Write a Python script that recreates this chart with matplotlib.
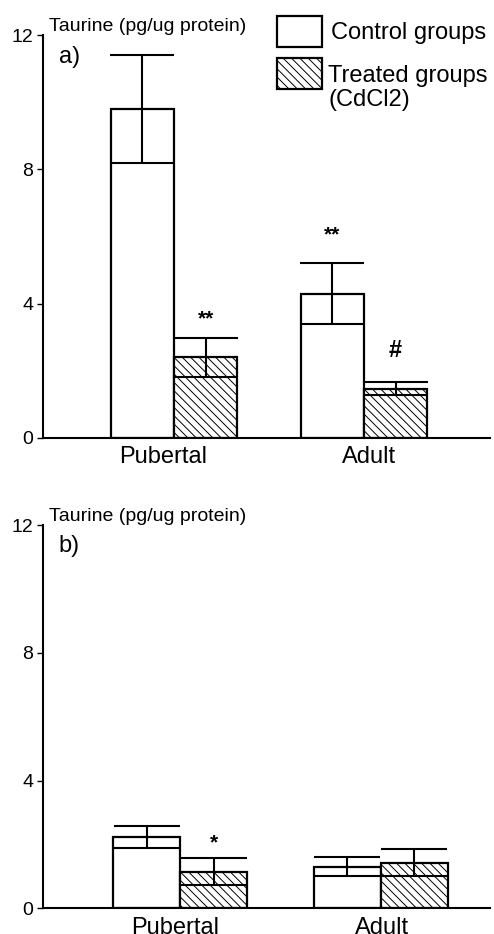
import matplotlib
matplotlib.use("Agg")
import matplotlib.pyplot as plt
from matplotlib.patches import Rectangle

plt.rcParams["font.family"] = ["Liberation Sans", "DejaVu Sans"]
plt.rcParams["hatch.linewidth"] = 0.7

# Data
groups = ["Pubertal", "Adult"]
series = ["Control groups", "Treated groups\n(CdCl2)"]

a_control = [9.8, 4.3]
a_control_err = [1.6, 0.9]
a_treated = [2.4, 1.47]
a_treated_err = [0.57, 0.2]

b_control = [2.24, 1.3]
b_control_err = [0.35, 0.3]
b_treated = [1.15, 1.43]
b_treated_err = [0.42, 0.42]

# significance marks: (text, group index, series index, y)
a_marks = [("**", 0, 1, 3.55), ("**", 1, 0, 6.05), ("#", 1, 1, 2.6)]
b_marks = [("*", 0, 1, 2.05)]

W, H = 494, 934
fig = plt.figure(figsize=(W / 100, H / 100), dpi=100)

centers = [1, 4]


def panel(rect, control, control_err, treated, treated_err, marks, letter,
          xlim, ticks, capsize):
    ax = fig.add_axes(rect)
    xc = [c - 0.5 for c in centers]
    xt = [c + 0.5 for c in centers]
    ax.bar(xc, control, width=1.0, color="white", edgecolor="black",
           linewidth=1.6, zorder=2)
    ax.bar(xt, treated, width=1.0, color="white", edgecolor="black",
           linewidth=1.6, hatch="\\\\\\\\", zorder=2)
    ax.errorbar(xc, control, yerr=control_err, fmt="none", ecolor="black",
                elinewidth=1.5, capsize=capsize, capthick=1.5, zorder=3)
    ax.errorbar(xt, treated, yerr=treated_err, fmt="none", ecolor="black",
                elinewidth=1.5, capsize=capsize, capthick=1.5, zorder=3)
    for txt, g, s, y in marks:
        x = xc[g] if s == 0 else xt[g]
        size = 17 if txt == "#" else 15
        ax.text(x, y, txt, ha="center", va="center", fontsize=size,
                fontweight="bold")
    ax.set_xlim(*xlim)
    ax.set_ylim(0, 12)
    ax.set_yticks([0, 4, 8, 12])
    ax.set_xticks(ticks)
    ax.set_xticklabels(groups, fontsize=17)
    ax.tick_params(axis="x", length=0, pad=6)
    ax.tick_params(axis="y", labelsize=14, length=4, width=1, pad=3)
    for side in ["top", "right"]:
        ax.spines[side].set_visible(False)
    for side in ["left", "bottom"]:
        ax.spines[side].set_linewidth(1.5)
    ax.text(0.013, 1.0, "Taurine (pg/ug protein)", transform=ax.transAxes,
            ha="left", va="bottom", fontsize=14)
    ax.text(0.035, 0.945, letter, transform=ax.transAxes, ha="left",
            va="center", fontsize=17)
    return ax


ax1 = panel([43 / W, (H - 438) / H, 447 / W, 403 / H],
            a_control, a_control_err, a_treated, a_treated_err, a_marks, "a)",
            (-1.068, 5.99), [0.83, 4.08], 23)
ax2 = panel([43 / W, (H - 908.3) / H, 447 / W, 383.3 / H],
            b_control, b_control_err, b_treated, b_treated_err, b_marks, "b)",
            (-1.045, 5.627), [0.93, 4.01], 24)

# legend drawn by hand at the top right
box_w, box_h = 45, 31
fig.patches.append(Rectangle((277 / W, (H - 47) / H), box_w / W, box_h / H,
                             transform=fig.transFigure, facecolor="white",
                             edgecolor="black", linewidth=1.6))
fig.patches.append(Rectangle((277 / W, (H - 89) / H), box_w / W, box_h / H,
                             transform=fig.transFigure, facecolor="white",
                             edgecolor="black", linewidth=1.6,
                             hatch="\\\\\\\\"))
fig.text(331 / W, (H - 33) / H, series[0], ha="left", va="center",
         fontsize=17)
fig.text(328 / W, (H - 88) / H, series[1], ha="left", va="center",
         fontsize=17, linespacing=1.15)

fig.savefig("out.png", dpi=100)
